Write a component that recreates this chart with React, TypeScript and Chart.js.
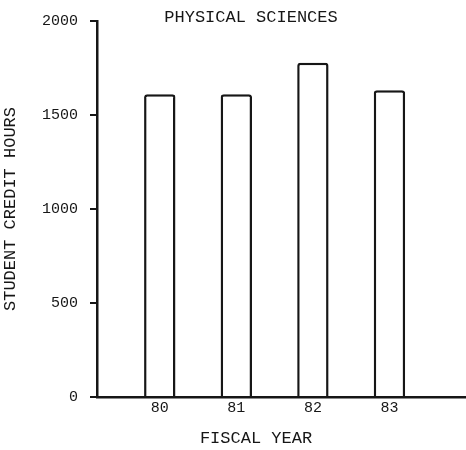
import React, { useEffect, useRef } from "react";
import { Chart, registerables } from "chart.js";

Chart.register(...registerables);

const fiscalYears = [80, 81, 82, 83];
const creditHours = [1610, 1610, 1778, 1632];
const yTicks = [0, 500, 1000, 1500, 2000];
const titleText = "PHYSICAL SCIENCES";
const xTitle = "FISCAL YEAR";
const yTitle = "STUDENT CREDIT HOURS";

const FONT = "'Liberation Mono', 'DejaVu Sans Mono', monospace";
const INK = "#161616";

const textPlugin = {
  id: "typedTexts",
  afterDraw(chart: any) {
    const { ctx, chartArea } = chart;
    ctx.save();
    ctx.font = `17px ${FONT}`;
    ctx.fillStyle = INK;
    ctx.textAlign = "center";
    ctx.textBaseline = "middle";
    ctx.fillText(titleText, chartArea.left + 154, chartArea.top - 4);
    ctx.fillText(xTitle, chartArea.left + 159, chartArea.bottom + 41);
    ctx.restore();
  },
};

export default function App() {
  const ref = useRef<HTMLCanvasElement | null>(null);

  useEffect(() => {
    document.body.style.margin = "0";
    if (!ref.current) return;
    const chart = new Chart(ref.current, {
      type: "bar",
      data: {
        datasets: [
          {
            data: fiscalYears.map((x, i) => ({ x, y: creditHours[i] })),
            backgroundColor: "#ffffff",
            borderColor: INK,
            borderWidth: 2.5,
            borderRadius: 3,
            barPercentage: 0.41,
            categoryPercentage: 1,
          },
        ],
      },
      options: {
        animation: false,
        responsive: true,
        maintainAspectRatio: false,
        layout: { padding: { top: 21, right: 0, bottom: 0, left: 0 } },
        plugins: {
          legend: { display: false },
          tooltip: { enabled: false },
          title: { display: false },
        },
        scales: {
          x: {
            type: "linear",
            min: 79.18,
            max: 84.0,
            offset: false,
            afterBuildTicks: (scale: any) => {
              scale.ticks = fiscalYears.map((v) => ({ value: v }));
            },
            afterFit: (scale: any) => {
              scale.height = 53;
            },
            grid: { display: true, drawOnChartArea: false, drawTicks: false },
            border: { display: true, color: INK, width: 2.5 },
            ticks: {
              color: INK,
              font: { family: FONT, size: 15 },
              padding: 2,
              autoSkip: false,
              maxRotation: 0,
              callback: (v: any) => String(v),
            },
            title: { display: false },
          },
          y: {
            min: 0,
            max: 2000,
            afterBuildTicks: (scale: any) => {
              scale.ticks = yTicks.map((v) => ({ value: v }));
            },
            afterFit: (scale: any) => {
              scale.width = 97;
            },
            grid: {
              display: true,
              drawOnChartArea: false,
              drawTicks: true,
              tickLength: 7,
              color: INK,
              lineWidth: 2,
            },
            border: { display: true, color: INK, width: 2.5 },
            ticks: {
              color: INK,
              font: { family: FONT, size: 15 },
              padding: 12,
              callback: (v: any) => String(v),
            },
            title: {
              display: true,
              text: yTitle,
              color: INK,
              font: { family: FONT, size: 17 },
              padding: { top: 0, bottom: 0 },
            },
          },
        },
      },
      plugins: [textPlugin],
    });
    return () => chart.destroy();
  }, []);

  return (
    <div style={{ width: 466, height: 450, position: "relative", background: "#fff" }}>
      <canvas ref={ref} />
    </div>
  );
}
